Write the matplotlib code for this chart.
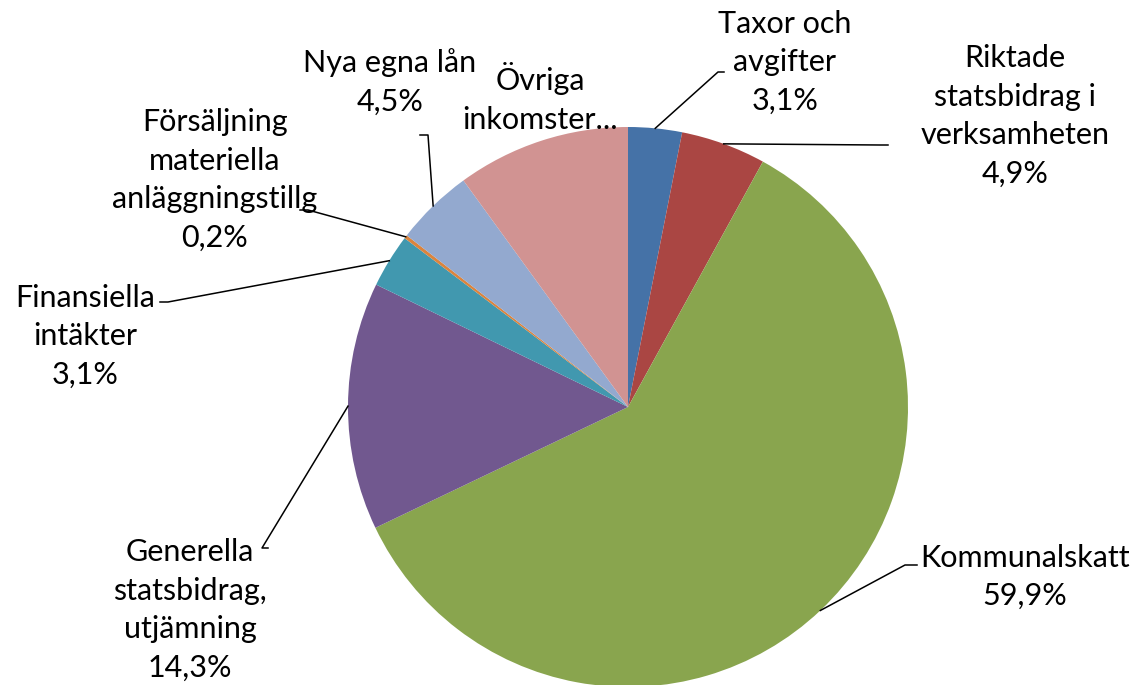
import numpy as np
import matplotlib.pyplot as plt

# -----------------------
# DATA
# -----------------------
labels = ["Taxor och\navgifter", "Riktade\nstatsbidrag i\nverksamheten", "Kommunalskatt",
          "Generella\nstatsbidrag,\nutjämning", "Finansiella\nintäkter",
          "Försäljning\nmateriella\nanläggningstillg", "Nya egna lån", "Övriga\ninkomster..."]
values = [3.1, 4.9, 59.9, 14.3, 3.1, 0.2, 4.5, 10.0]
show_pct = [True, True, True, True, True, True, True, False]
colors = ["#4572A7", "#AA4643", "#89A54E", "#71588F", "#4198AF", "#DB843D", "#93A9CF", "#D19392"]

# label placement in pixels (x, y from top) and leader elbow (None = no line)
label_pos = [(785, 62), (1015, 116), (1025, 577), (190, 610), (85, 336), (215, 180), (390, 82), (540, 98)]
elbows = [[(724, 72), (718, 72)], [(888, 145), (880, 145)], [(917, 565), (905, 565)],
          [(268, 548), (262, 548)], [(160, 302), (168, 302)], [(300, 210), (308, 210)],
          [(420, 135), (428, 135)], None]

W, H = 1139, 685
cx, cy, r = 628, 407, 280

plt.rcParams['font.family'] = ['Lato', 'DejaVu Sans']
fig = plt.figure(figsize=(W / 100, H / 100), dpi=100)
ax = fig.add_axes([0, 0, 1, 1])

# -----------------------
# PIE
# -----------------------
ax.pie(values, colors=colors, startangle=90, counterclock=False,
       center=(cx, H - cy), radius=r, wedgeprops=dict(linewidth=0), frame=True)
ax.set_xlim(0, W)
ax.set_ylim(0, H)
ax.set_aspect('equal')
ax.axis('off')

# -----------------------
# LEADER LINES + LABELS
# -----------------------
total = sum(values)
cum = 0
for i, v in enumerate(values):
    mid = 90 - (cum + v / 2) / total * 360
    cum += v
    ex = cx + r * np.cos(np.radians(mid))
    ey = (H - cy) + r * np.sin(np.radians(mid))
    if elbows[i] is not None:
        (x0, y0), (x1, y1) = elbows[i]
        ax.plot([x0, x1, ex], [H - y0, H - y1, ey], color="black", lw=1.1)
    txt = labels[i]
    if show_pct[i]:
        txt += "\n" + ("%.1f%%" % v).replace(".", ",")
    lx, ly = label_pos[i]
    ax.text(lx, H - ly, txt, ha="center", va="center", fontsize=22,
            linespacing=1.45, color="black")

fig.savefig("out.png", dpi=100)
